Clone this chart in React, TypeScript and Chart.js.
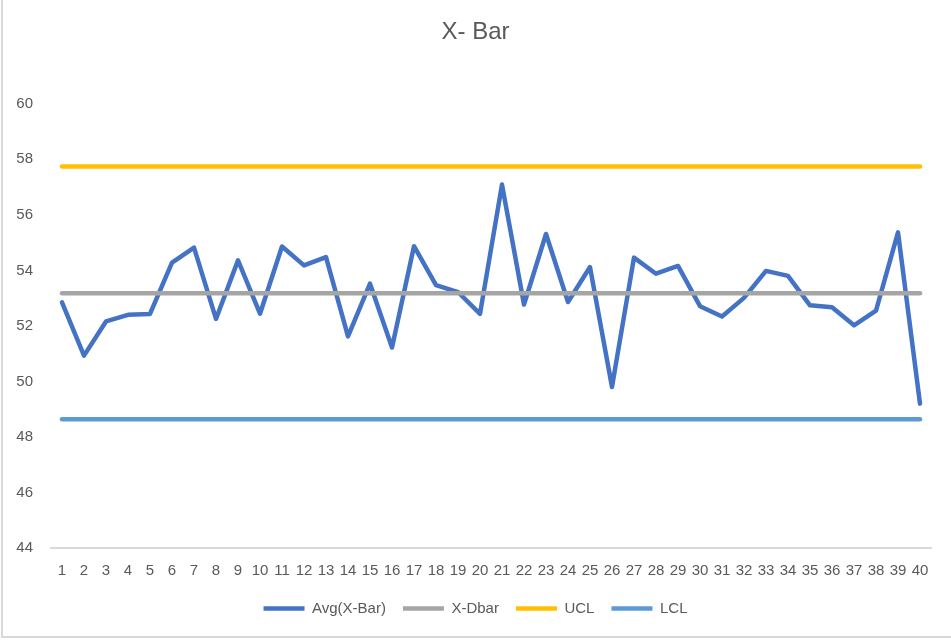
import React, { useEffect, useRef } from "react";
import { Chart, registerables } from "chart.js";

Chart.register(...registerables);

const categories = Array.from({ length: 40 }, (_, i) => String(i + 1));

const avgXBar = [
  52.85, 50.93, 52.16, 52.4, 52.43, 54.28, 54.82, 52.25, 54.36, 52.44,
  54.86, 54.18, 54.48, 51.62, 53.52, 51.22, 54.87, 53.47, 53.22, 52.43,
  57.09, 52.77, 55.31, 52.86, 54.12, 49.8, 54.46, 53.88, 54.16, 52.71,
  52.34, 53.01, 53.98, 53.8, 52.74, 52.67, 52.02, 52.55, 55.37, 49.2,
];
const xDbarValue = 53.18;
const uclValue = 57.74;
const lclValue = 48.64;

const xDbar = categories.map(() => xDbarValue);
const ucl = categories.map(() => uclValue);
const lcl = categories.map(() => lclValue);

const yMin = 44;
const yMax = 60;
const yStep = 2;

const FONT = '"Liberation Sans", Arial, sans-serif';
const TEXT = "#595959";

export default function App() {
  const ref = useRef<HTMLCanvasElement | null>(null);

  useEffect(() => {
    if (!ref.current) return;
    const mk = (label: string, data: number[], color: string, order: number) => ({
      label,
      data,
      borderColor: color,
      backgroundColor: color,
      borderWidth: 4.5,
      pointRadius: 0,
      pointHoverRadius: 0,
      pointStyle: "line" as const,
      borderCapStyle: "round" as const,
      borderJoinStyle: "round" as const,
      tension: 0,
      fill: false,
      order,
    });
    const chart = new Chart(ref.current, {
      type: "line",
      data: {
        labels: categories,
        datasets: [
          mk("Avg(X-Bar)", avgXBar, "#4472C4", 4),
          mk("X-Dbar", xDbar, "#A5A5A5", 3),
          mk("UCL", ucl, "#FFC000", 2),
          mk("LCL", lcl, "#5B9BD5", 1),
        ],
      },
      options: {
        animation: false,
        responsive: false,
        maintainAspectRatio: false,
        layout: { padding: { left: 0, right: 0, top: 0, bottom: 16 } },
        plugins: {
          title: {
            display: true,
            text: "X- Bar",
            color: TEXT,
            font: { family: FONT, size: 24, weight: "normal" },
            padding: { top: 18, bottom: 57 },
          },
          legend: {
            position: "bottom",
            labels: {
              usePointStyle: true,
              pointStyle: "line",
              pointStyleWidth: 41,
              color: TEXT,
              font: { family: FONT, size: 15 },
              padding: 17,
              sort: (a: any, b: any) => a.datasetIndex - b.datasetIndex,
            },
          },
          tooltip: { enabled: false },
        },
        scales: {
          x: {
            offset: true,
            grid: { display: false, drawTicks: false },
            border: { display: true, color: "#D9D9D9", width: 2 },
            ticks: {
              color: TEXT,
              font: { family: FONT, size: 15 },
              autoSkip: false,
              maxRotation: 0,
              minRotation: 0,
              padding: 14,
            },
            afterFit: (scale: any) => {
              scale.height = 36;
            },
          },
          y: {
            min: yMin,
            max: yMax,
            grid: { display: false, drawTicks: false },
            border: { display: false },
            ticks: {
              stepSize: yStep,
              color: TEXT,
              font: { family: FONT, size: 15 },
              padding: 18,
            },
            afterFit: (scale: any) => {
              scale.width = 51;
            },
          },
          spacer: {
            type: "linear",
            position: "right",
            display: true,
            grid: { display: false, drawTicks: false },
            border: { display: false },
            ticks: { display: false },
            afterFit: (scale: any) => {
              scale.width = 20;
            },
          },
        },
      },
    });
    return () => chart.destroy();
  }, []);

  return (
    <div style={{ position: "fixed", left: 0, top: 0, width: 951, height: 642, background: "#fff" }}>
      <div
        style={{
          position: "absolute",
          left: 1,
          top: 0,
          width: 952,
          height: 636,
          borderLeft: "2px solid #D9D9D9",
          borderBottom: "2px solid #D9D9D9",
        }}
      />
      <canvas ref={ref} width={951} height={642} style={{ position: "absolute", left: 0, top: 0 }} />
    </div>
  );
}
